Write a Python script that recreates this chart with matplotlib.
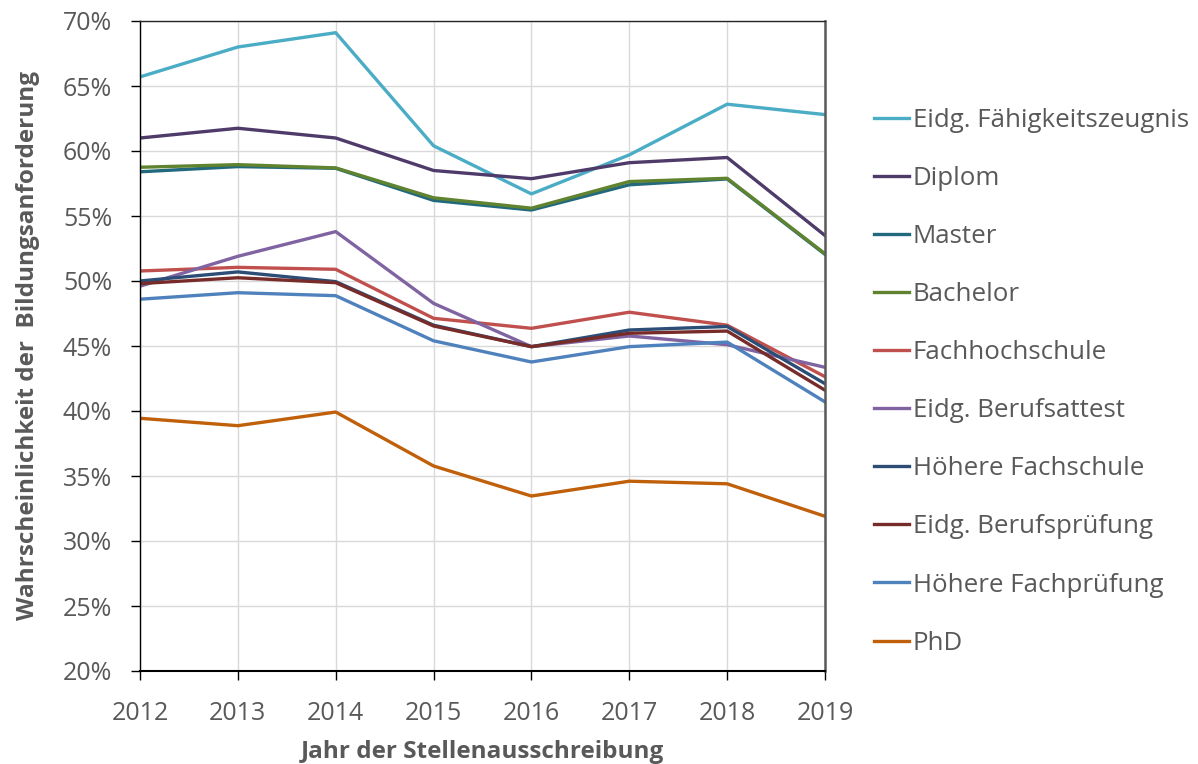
import matplotlib
matplotlib.use("Agg")
import matplotlib.pyplot as plt
from matplotlib.ticker import FuncFormatter, MultipleLocator

years = [2012, 2013, 2014, 2015, 2016, 2017, 2018, 2019]

series_names = [
    "Eidg. Fähigkeitszeugnis", "Diplom", "Master", "Bachelor", "Fachhochschule",
    "Eidg. Berufsattest", "Höhere Fachschule", "Eidg. Berufsprüfung",
    "Höhere Fachprüfung", "PhD",
]

eidg_faehigkeitszeugnis = [65.7, 68.0, 69.1, 60.4, 56.7, 59.7, 63.6, 62.8]
diplom = [61.0, 61.75, 61.0, 58.5, 57.87, 59.1, 59.5, 53.5]
master = [58.4, 58.8, 58.67, 56.2, 55.46, 57.4, 57.85, 52.05]
bachelor = [58.75, 58.95, 58.7, 56.4, 55.6, 57.65, 57.9, 52.1]
fachhochschule = [50.77, 51.05, 50.9, 47.13, 46.36, 47.6, 46.6, 42.64]
eidg_berufsattest = [49.6, 51.9, 53.8, 48.28, 44.95, 45.77, 45.1, 43.36]
hoehere_fachschule = [50.0, 50.7, 49.95, 46.6, 44.95, 46.23, 46.5, 42.1]
eidg_berufspruefung = [49.8, 50.25, 49.87, 46.54, 44.95, 45.98, 46.15, 41.6]
hoehere_fachpruefung = [48.6, 49.1, 48.87, 45.4, 43.77, 44.95, 45.3, 40.7]
phd = [39.44, 38.87, 39.92, 35.77, 33.46, 34.6, 34.4, 31.9]

values = [
    eidg_faehigkeitszeugnis, diplom, master, bachelor, fachhochschule,
    eidg_berufsattest, hoehere_fachschule, eidg_berufspruefung,
    hoehere_fachpruefung, phd,
]

colors = [
    "#4BACC6", "#4E3B6A", "#23697D", "#60832F", "#C0504D",
    "#8064A2", "#2C4D75", "#772C2A", "#4F81BD", "#C0600A",
]

plt.rcParams['font.family'] = ['Open Sans', 'DejaVu Sans']

fig = plt.figure(figsize=(11.98, 7.64), dpi=100)
ax = fig.add_axes([140/1198, 1-671/764, (825-140)/1198, (671-21)/764])

for name, vals, c in zip(series_names, values, colors):
    ax.plot(years, vals, color=c, lw=2.4, label=name, solid_joinstyle='round')

ax.set_xlim(2012, 2019)
ax.set_ylim(20, 70)
ax.yaxis.set_major_locator(MultipleLocator(5))
ax.xaxis.set_major_locator(MultipleLocator(1))
ax.yaxis.set_major_formatter(FuncFormatter(lambda v, p: f"{int(round(v))}%"))

ax.grid(True, color="#D9D9D9", lw=1.0)
ax.set_axisbelow(True)

ax.spines["top"].set_color("#262626")
ax.spines["top"].set_linewidth(1.0)
ax.spines["right"].set_color("#595959")
ax.spines["right"].set_linewidth(1.8)
ax.spines["left"].set_color("black")
ax.spines["bottom"].set_color("black")
ax.spines["bottom"].set_linewidth(1.5)
ax.spines["left"].set_linewidth(1.0)

ax.tick_params(axis='both', direction='out', length=6.5, width=1.0, color='black',
               labelsize=18, labelcolor='#595959')
ax.tick_params(axis='y', pad=13.5)
ax.tick_params(axis='x', pad=15)

ax.set_xlabel("Jahr der Stellenausschreibung", fontsize=17.5, fontweight='bold',
              color='#595959', labelpad=10)
ax.set_ylabel("Wahrscheinlichkeit der  Bildungsanforderung", fontsize=17.5,
              fontweight='bold', color='#595959')
ax.yaxis.set_label_coords(-100/685, 0.5)

leg = ax.legend(loc='upper left', bbox_to_anchor=(874/1198, 1-108/764),
                bbox_transform=fig.transFigure, frameon=False, fontsize=18.6,
                handlelength=1.35, handletextpad=0.15, labelspacing=1.28,
                borderaxespad=0, borderpad=0)
for t in leg.get_texts():
    t.set_color('#595959')

fig.savefig("out.png", dpi=100)
